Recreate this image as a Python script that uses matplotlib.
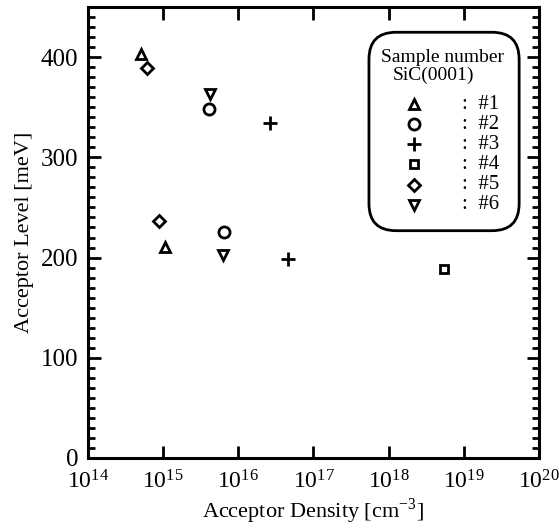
# nivel del aceptor vs densidad del aceptor, SiC(0001)
import matplotlib.pyplot as plt
from matplotlib.patches import FancyBboxPatch
from matplotlib.ticker import LogLocator, MultipleLocator, NullFormatter

plt.rcParams['font.family'] = ['Liberation Serif', 'DejaVu Serif']
plt.rcParams['mathtext.fontset'] = 'stix'

# datos por muestra (densidad en cm^-3, nivel en meV)
samples = ['#1', '#2', '#3', '#4', '#5', '#6']
markers = ['^', 'o', '+', 's', 'D', 'v']
sizes = [7, 8, 10, 6, 6, 7]
density = [
    [5.0e14, 1.05e15],
    [4.1e15, 6.4e15],
    [2.6e16, 4.6e16],
    [5.5e18],
    [6.1e14, 8.8e14],
    [4.15e15, 6.2e15],
]
level = [
    [403, 211],
    [348, 225],
    [334, 199],
    [189],
    [389, 236],
    [363, 203],
]
xticks = [1e14, 1e15, 1e16, 1e17, 1e18, 1e19, 1e20]
xticklabels = ['$\\mathregular{10^{%d}}$' % e for e in range(14, 21)]

fig = plt.figure(figsize=(5.59, 5.31), dpi=100)
ax = fig.add_axes([0.1574, 0.1375, 0.8068, 0.8493])

for x, y, m, s in zip(density, level, markers, sizes):
    ax.plot(x, y, linestyle='none', marker=m, markersize=s,
            markerfacecolor='none', markeredgecolor='black', markeredgewidth=2)

ax.set_xscale('log')
ax.set_xlim(1e14, 1e20)
ax.set_ylim(0, 450)
ax.set_xticks(xticks)
ax.set_xticklabels(xticklabels)
ax.xaxis.set_minor_locator(LogLocator(base=10, subs=[2, 4, 6, 8]))
ax.xaxis.set_minor_formatter(NullFormatter())
ax.yaxis.set_major_locator(MultipleLocator(100))
ax.yaxis.set_minor_locator(MultipleLocator(10))

ax.tick_params(which='both', direction='in', top=True, right=True,
               width=2, color='black')
ax.tick_params(which='major', length=9)
ax.tick_params(which='minor', length=5)
ax.tick_params(axis='x', which='major', labelsize=17, pad=9)
ax.tick_params(axis='y', which='major', labelsize=18, pad=7)
for sp in ax.spines.values():
    sp.set_linewidth(2.2)

ax.set_xlabel('Acceptor Density [cm$^{\\mathregular{-3}}$]', fontsize=16, labelpad=2)
ax.set_ylabel('Acceptor Level [meV]', fontsize=16, labelpad=5)

# leyenda hecha a mano con caja redondeada
box = FancyBboxPatch((0.623, 0.504), 0.333, 0.44, transform=ax.transAxes,
                     boxstyle='round,pad=0,rounding_size=0.06',
                     facecolor='white', edgecolor='black', linewidth=2)
ax.add_patch(box)
ax.text(0.787, 0.889, 'Sample number', transform=ax.transAxes,
        ha='center', va='center', fontsize=14)
ax.text(0.676, 0.849, 'SiC(0001)', transform=ax.transAxes,
        ha='left', va='center', fontsize=14)
for i, (lab, m, s) in enumerate(zip(samples, markers, sizes)):
    yy = 0.784 - i * 0.0444
    ax.plot([0.723], [yy], transform=ax.transAxes, linestyle='none',
            marker=m, markersize=s, markerfacecolor='none',
            markeredgecolor='black', markeredgewidth=2, clip_on=False)
    ax.text(0.83, yy, ':  ' + lab, transform=ax.transAxes,
            ha='left', va='center', fontsize=15)

fig.savefig('out.png', dpi=100)
